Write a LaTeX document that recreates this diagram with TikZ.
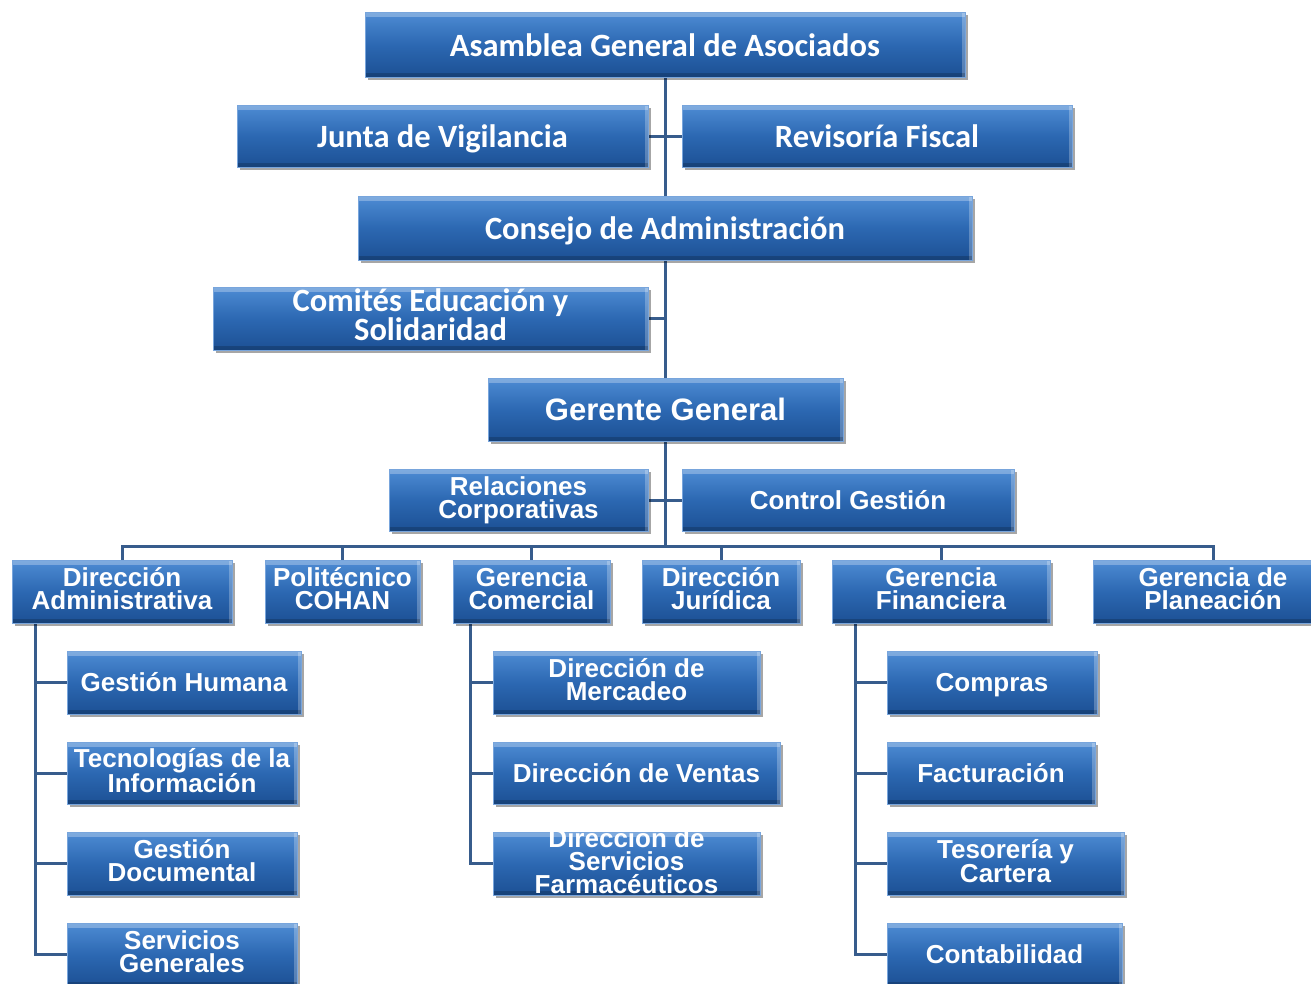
\documentclass[tikz,border=0pt]{standalone}
\usepackage{fontspec}
\usetikzlibrary{shadows,calc}
\newfontfamily\calfont{Carlito}
\newfontfamily\arfont{Liberation Sans}
\definecolor{boxtop}{RGB}{78,140,212}
\definecolor{boxmid}{RGB}{44,104,178}
\definecolor{boxbot}{RGB}{28,80,148}
\definecolor{boxedge}{RGB}{120,165,220}
\definecolor{linec}{RGB}{55,92,140}
\pgfdeclarelayer{background}
\pgfsetlayers{background,main}
\tikzset{
  obox/.style={rectangle, inner sep=0pt, top color=boxtop, bottom color=boxbot, middle color=boxmid,
    draw=boxedge, line width=0.8pt,
    drop shadow={shadow xshift=3pt, shadow yshift=-3pt, fill=black, opacity=0.35},
    path picture={
      \fill[white,opacity=0.28] (path picture bounding box.north west) rectangle ([yshift=-5pt]path picture bounding box.north east);
      \fill[white,opacity=0.25] ([xshift=-3pt]path picture bounding box.south east) rectangle (path picture bounding box.north east);
      \fill[black,opacity=0.18] ([yshift=4pt]path picture bounding box.south west) rectangle (path picture bounding box.south east);
    }},
  otxt/.style={text=white, align=center, inner sep=0pt,
    execute at begin node={\rule{0pt}{0.93em}},
    execute at end node={\rule[-0.21em]{0pt}{0pt}}},
  topf/.style={font=\calfont\bfseries\fontsize{32.5}{29}\selectfont},
  lowf/.style={font=\arfont\bfseries\fontsize{26}{23}\selectfont},
  gerf/.style={font=\arfont\bfseries\fontsize{31}{28}\selectfont},
  conn/.style={draw=linec, line width=3pt},
}
% name, cx, cy, w, h, font style, text
\newcommand{\orgbox}[7]{%
  \node[obox, minimum width=#4pt, minimum height=#5pt] (#1) at (#2,#3) {};
  \node[otxt, #6] (#1t) at (#1.center) {#7};
}
\begin{document}
\begin{tikzpicture}[x=1pt,y=-1pt]
\useasboundingbox (0,0) rectangle (1311,983);
\clip (0,0) rectangle (1311,983);

\orgbox{asam}{665}{44.5}{600}{65}{topf}{Asamblea General de Asociados}
\orgbox{junta}{442.5}{136}{411}{62}{topf}{Junta de Vigilancia}
\orgbox{rev}{877}{136}{390}{62}{topf}{Revisoría Fiscal}
\orgbox{cons}{665}{228}{614}{64}{topf}{Consejo de Administración}
\orgbox{comi}{430.5}{318.5}{435}{63}{topf}{Comités Educación y\\Solidaridad}
\orgbox{ger}{665.5}{409.5}{355}{63}{gerf}{Gerente General}
\orgbox{rel}{518.5}{500}{259}{62}{lowf}{Relaciones\\Corporativas}
\orgbox{ctrl}{848}{500}{332}{62}{lowf}{Control Gestión}

\orgbox{da}{122}{591.5}{220}{63}{lowf}{Dirección\\Administrativa}
\orgbox{poli}{342.5}{591.5}{155}{63}{lowf}{Politécnico\\COHAN}
\orgbox{gc}{531.5}{591.5}{157}{63}{lowf}{Gerencia\\Comercial}
\orgbox{dj}{721}{591.5}{158}{63}{lowf}{Dirección\\Jurídica}
\orgbox{gf}{941}{591.5}{218}{63}{lowf}{Gerencia\\Financiera}
\orgbox{gp}{1213}{591.5}{240}{63}{lowf}{Gerencia de\\Planeación}

\orgbox{gh}{184}{682.5}{234}{63}{lowf}{Gestión Humana}
\orgbox{ti}{182}{773}{230}{62}{lowf}{Tecnologías de la\\Información}
\orgbox{gd}{182}{863.5}{230}{63}{lowf}{Gestión\\Documental}
\orgbox{sg}{182}{954.5}{230}{63}{lowf}{Servicios\\Generales}

\orgbox{mer}{626.5}{682.5}{267}{63}{lowf}{Dirección de\\Mercadeo}
\orgbox{ven}{636.5}{773}{287}{62}{lowf}{Dirección de Ventas}
\orgbox{far}{626.5}{863.5}{267}{63}{lowf}{Dirección de\\Servicios\\Farmacéuticos}

\orgbox{com}{992}{682.5}{210}{63}{lowf}{Compras}
\orgbox{fac}{991}{773}{208}{62}{lowf}{Facturación}
\orgbox{tes}{1005.5}{863.5}{237}{63}{lowf}{Tesorería y\\Cartera}
\orgbox{cont}{1004.5}{954.5}{235}{63}{lowf}{Contabilidad}

\coordinate (busc) at (665,546);
\coordinate (daS) at (35,623);
\coordinate (gcS) at (470,623);
\coordinate (gfS) at (855,623);

\begin{pgfonlayer}{background}
\fill[white] (0,0) rectangle (1311,983);
\draw[conn] (asam.south) -- (busc);
\draw[conn] (junta.east) -- (rev.west);
\draw[conn] (comi.east) -- (comi.east -| busc);
\draw[conn] (rel.east) -- (ctrl.west);
\draw[conn] (da.north) |- (busc) -| (gp.north);
\draw[conn] (poli.north) -- (poli.north |- busc);
\draw[conn] (gc.north) -- (gc.north |- busc);
\draw[conn] (dj.north) -- (dj.north |- busc);
\draw[conn] (gf.north) -- (gf.north |- busc);

\draw[conn] (daS) |- (sg.west);
\draw[conn] (gh.west) -- (gh.west -| daS);
\draw[conn] (ti.west) -- (ti.west -| daS);
\draw[conn] (gd.west) -- (gd.west -| daS);

\draw[conn] (gcS) |- (far.west);
\draw[conn] (mer.west) -- (mer.west -| gcS);
\draw[conn] (ven.west) -- (ven.west -| gcS);

\draw[conn] (gfS) |- (cont.west);
\draw[conn] (com.west) -- (com.west -| gfS);
\draw[conn] (fac.west) -- (fac.west -| gfS);
\draw[conn] (tes.west) -- (tes.west -| gfS);
\end{pgfonlayer}
\end{tikzpicture}
\end{document}
